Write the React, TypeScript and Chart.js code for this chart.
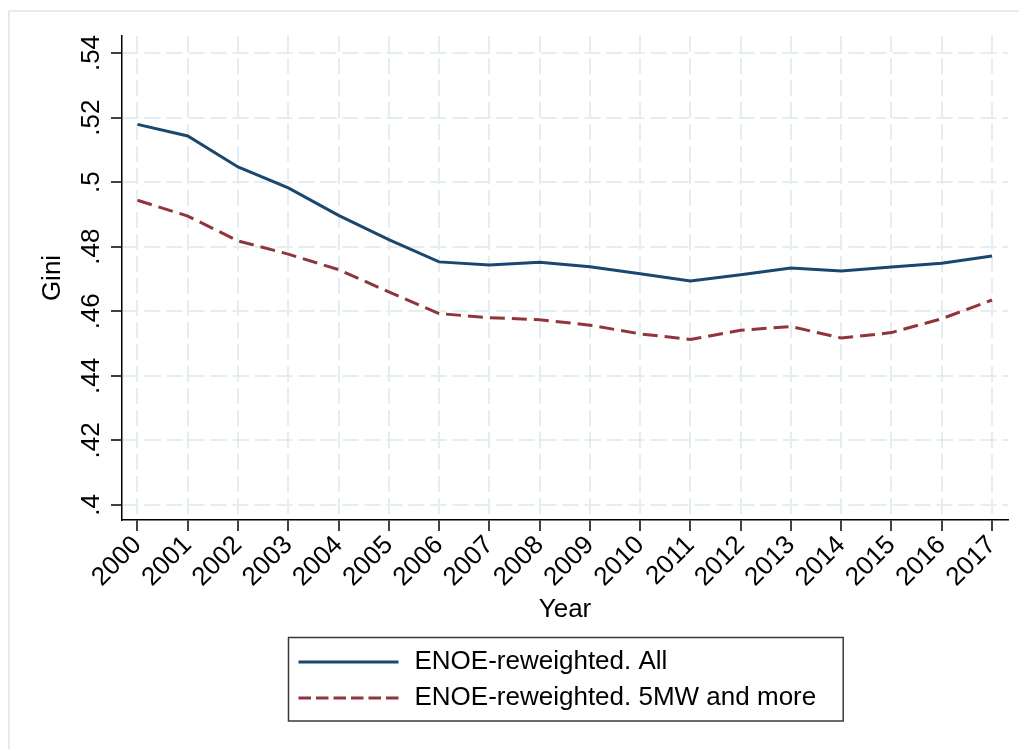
import React, { useEffect, useRef } from "react";
import { Chart, registerables } from "chart.js";

Chart.register(...registerables);

// ---- data ----
const YEARS = [2000, 2001, 2002, 2003, 2004, 2005, 2006, 2007, 2008, 2009, 2010, 2011, 2012, 2013, 2014, 2015, 2016, 2017];
const GINI_ALL = [0.5179, 0.5143, 0.5047, 0.4982, 0.4897, 0.4822, 0.4753, 0.4743, 0.4752, 0.4738, 0.4716, 0.4694, 0.4713, 0.4734, 0.4725, 0.4737, 0.4749, 0.4771];
const GINI_5MW = [0.4944, 0.4895, 0.4818, 0.4777, 0.4729, 0.466, 0.4593, 0.458, 0.4574, 0.4557, 0.453, 0.4513, 0.4541, 0.4553, 0.4517, 0.4534, 0.4577, 0.4635];
const Y_TICKS = [0.4, 0.42, 0.44, 0.46, 0.48, 0.5, 0.52, 0.54];
const Y_TICK_LABELS = [".4", ".42", ".44", ".46", ".48", ".5", ".52", ".54"];
const SERIES_LABELS = ["ENOE-reweighted. All", "ENOE-reweighted. 5MW and more"];
const X_TITLE = "Year";
const Y_TITLE = "Gini";

// ---- style ----
const FONT = "'Liberation Sans', Arial, Helvetica, sans-serif";
const FS = 26;
const BLUE = "#1a476f";
const RED = "#90353b";
const GRID = "#e4edf0";
const W = 1019;
const H = 749;

const framePlugin = {
  id: "frame",
  beforeDraw(chart: any) {
    const ctx = chart.ctx;
    ctx.save();
    ctx.fillStyle = "#ffffff";
    ctx.fillRect(0, 0, chart.width, chart.height);
    ctx.strokeStyle = "#e3ebee";
    ctx.lineWidth = 2;
    ctx.strokeRect(9, 11, chart.width + 10, chart.height + 10);
    ctx.restore();
  },
};

const legendPlugin = {
  id: "stataLegend",
  afterDraw(chart: any) {
    const { ctx, chartArea } = chart;
    const xScale = chart.scales.x;
    ctx.save();
    ctx.font = `${FS}px ${FONT}`;
    const items = chart.data.datasets.map((ds: any) => ({
      label: ds.label as string,
      color: ds.borderColor as string,
      dashed: Array.isArray(ds.borderDash) && ds.borderDash.length > 0,
      width: ds.borderWidth as number,
    }));
    const textW = Math.max(...items.map((it: any) => ctx.measureText(it.label).width));
    const padL = 10, sample = 100, gap = 16, padR = 27;
    const boxW = padL + sample + gap + textW + padR;
    const cx = (chartArea.left + chartArea.right) / 2;
    const left = Math.round(cx - boxW / 2) + 0.5;
    const top = Math.round(xScale.bottom + 12) + 0.5;
    const rowH = 36;
    const firstRow = top + 24.5;
    const boxH = 83.5;
    ctx.fillStyle = "#ffffff";
    ctx.fillRect(left, top, boxW, boxH);
    ctx.strokeStyle = "#3a3a3a";
    ctx.lineWidth = 1.5;
    ctx.strokeRect(left, top, boxW, boxH);
    items.forEach((it: any, i: number) => {
      const y = firstRow + i * rowH;
      ctx.beginPath();
      ctx.setLineDash(it.dashed ? [12.5, 5] : []);
      ctx.strokeStyle = it.color;
      ctx.lineWidth = it.width;
      ctx.moveTo(left + padL, y);
      ctx.lineTo(left + padL + sample, y);
      ctx.stroke();
      ctx.setLineDash([]);
      ctx.fillStyle = "#000000";
      ctx.textAlign = "left";
      ctx.textBaseline = "middle";
      ctx.fillText(it.label, left + padL + sample + gap, y);
    });
    ctx.restore();
  },
};

export default function App() {
  const ref = useRef<HTMLCanvasElement | null>(null);

  useEffect(() => {
    if (!ref.current) return;
    const chart = new Chart(ref.current, {
      type: "line",
      data: {
        datasets: [
          {
            label: SERIES_LABELS[0],
            data: YEARS.map((y, i) => ({ x: y, y: GINI_ALL[i] })),
            borderColor: BLUE,
            backgroundColor: BLUE,
            borderWidth: 3,
            pointRadius: 0,
            tension: 0,
            fill: false,
          },
          {
            label: SERIES_LABELS[1],
            data: YEARS.map((y, i) => ({ x: y, y: GINI_5MW[i] })),
            borderColor: RED,
            backgroundColor: RED,
            borderWidth: 3,
            borderDash: [15, 7],
            pointRadius: 0,
            tension: 0,
            fill: false,
          },
        ],
      },
      plugins: [framePlugin, legendPlugin],
      options: {
        responsive: false,
        animation: false,
        devicePixelRatio: 1,
        layout: { padding: { left: 0, top: 36, right: 11, bottom: 124 } },
        plugins: {
          legend: { display: false },
          tooltip: { enabled: false },
        },
        scales: {
          x: {
            type: "linear",
            position: "bottom",
            min: 1999.692,
            max: 2017.318,
            afterBuildTicks: (s: any) => {
              s.ticks = YEARS.map((v) => ({ value: v }));
            },
            afterFit: (s: any) => {
              s.height = 105;
              s.paddingLeft = 0;
              s.paddingRight = 0;
            },
            ticks: {
              autoSkip: false,
              minRotation: 45,
              maxRotation: 45,
              padding: -1,
              color: "#000",
              font: { family: FONT, size: FS },
              callback: (v: any) => String(v),
            },
            grid: {
              color: GRID,
              lineWidth: 2,
              drawTicks: true,
              tickLength: 11,
              tickColor: "#000",
              tickWidth: 1.5,
            },
            border: { display: true, color: "#000", width: 1.5, dash: [16, 6] },
            title: {
              display: true,
              text: X_TITLE,
              color: "#000",
              font: { family: FONT, size: FS },
              padding: { top: 0, bottom: 0 },
            },
          },
          y: {
            type: "linear",
            position: "left",
            min: 0.39535,
            max: 0.54527,
            afterBuildTicks: (s: any) => {
              s.ticks = Y_TICKS.map((v) => ({ value: v }));
            },
            afterFit: (s: any) => {
              s.width = 122;
              s.paddingTop = 0;
              s.paddingBottom = 0;
            },
            ticks: {
              autoSkip: false,
              minRotation: 90,
              maxRotation: 90,
              crossAlign: "center",
              padding: 1.5,
              color: "#000",
              font: { family: FONT, size: FS },
              callback: (_v: any, i: number) => Y_TICK_LABELS[i],
            },
            grid: {
              color: GRID,
              lineWidth: 2,
              drawTicks: true,
              tickLength: 11,
              tickColor: "#000",
              tickWidth: 1.5,
            },
            border: { display: true, color: "#000", width: 1.5, dash: [16, 6] },
            title: {
              display: true,
              text: Y_TITLE,
              color: "#000",
              font: { family: FONT, size: FS },
              padding: { top: 37, bottom: 0 },
            },
          },
        },
      } as any,
    });
    return () => chart.destroy();
  }, []);

  return (
    <div style={{ position: "fixed", left: 0, top: 0, width: W, height: H, background: "#fff" }}>
      <canvas ref={ref} width={W} height={H} style={{ display: "block", width: W, height: H }} />
    </div>
  );
}
